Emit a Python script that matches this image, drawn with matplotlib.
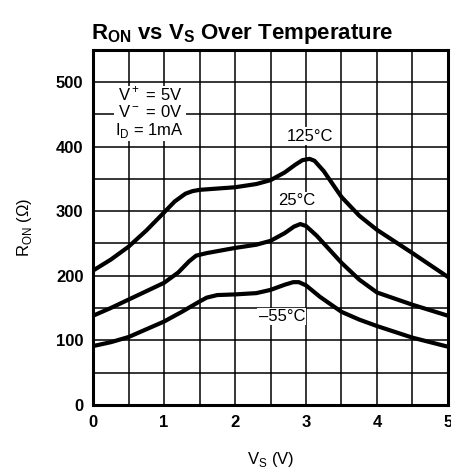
import matplotlib
matplotlib.use("Agg")
import matplotlib.pyplot as plt
import numpy as np

plt.rcParams['font.family'] = ['Liberation Sans', 'DejaVu Sans']
plt.rcParams['mathtext.fontset'] = 'custom'
plt.rcParams['mathtext.rm'] = 'Liberation Sans'
plt.rcParams['mathtext.bf'] = 'Liberation Sans:bold'

# Data
vs_125 = [0, 0.25, 0.5, 0.75, 1.0, 1.15, 1.3, 1.4, 1.5, 1.75, 2.0, 2.3, 2.5, 2.7, 2.85, 2.95, 3.05, 3.12, 3.25, 3.5, 3.75, 4.0, 4.5, 5.0]
ron_125 = [208, 225, 245, 270, 298, 315, 327, 331, 333, 335, 337, 342, 348, 360, 372, 379, 381, 378, 362, 322, 293, 271, 235, 198]

vs_25 = [0, 0.25, 0.5, 0.75, 1.0, 1.2, 1.35, 1.45, 1.6, 2.0, 2.3, 2.5, 2.7, 2.83, 2.92, 3.0, 3.15, 3.5, 3.75, 4.0, 4.5, 5.0]
ron_25 = [138, 150, 163, 176, 189, 205, 222, 231, 235, 243, 248, 254, 266, 276, 280, 277, 262, 220, 194, 174, 155, 138]

vs_m55 = [0, 0.25, 0.5, 0.75, 1.0, 1.25, 1.5, 1.6, 1.75, 2.0, 2.3, 2.5, 2.7, 2.82, 2.9, 3.0, 3.2, 3.5, 3.75, 4.0, 4.5, 5.0]
ron_m55 = [91, 97, 105, 117, 129, 144, 160, 166, 170, 171, 173, 178, 186, 190, 190, 185, 167, 144, 132, 122, 104, 90]

x_ticks = [0, 1, 2, 3, 4, 5]
y_ticks = [0, 100, 200, 300, 400, 500]

fig = plt.figure(figsize=(4.52, 4.74), dpi=100)
ax = fig.add_axes([0.206, 0.146, 0.785, 0.749])

for xs, ys in [(vs_125, ron_125), (vs_25, ron_25), (vs_m55, ron_m55)]:
    ax.plot(xs, ys, color='black', lw=3, solid_capstyle='round', solid_joinstyle='round', zorder=3)

ax.set_xlim(0, 5)
ax.set_ylim(0, 550)
ax.set_xticks(np.arange(0, 5.01, 0.5), minor=True)
ax.set_yticks(np.arange(0, 551, 50), minor=True)
ax.set_xticks(x_ticks)
ax.set_yticks(y_ticks)
ax.grid(True, which='both', color='black', lw=1.1)
ax.tick_params(which='both', length=0, labelsize=12, pad=7)
for lab in ax.get_xticklabels() + ax.get_yticklabels():
    lab.set_fontweight('bold')
for s in ax.spines.values():
    s.set_linewidth(2.2)

box = dict(facecolor='white', edgecolor='none', pad=1)
ax.text(0.8, 453, "V$^+$ = 5V\nV$^-$ = 0V\nI$_\\mathrm{D}$ = 1mA", ha='center', va='center',
        fontsize=12, linespacing=1.05, bbox=box, zorder=4)
ax.text(3.05, 416, "125°C", ha='center', va='center', fontsize=12, bbox=box, zorder=4)
ax.text(2.87, 316, "25°C", ha='center', va='center', fontsize=12, bbox=box, zorder=4)
ax.text(2.66, 137, "–55°C", ha='center', va='center', fontsize=12, bbox=box, zorder=4)

ax.set_xlabel("V$_\\mathrm{S}$ (V)", fontsize=12, labelpad=15)
ax.set_ylabel("R$_\\mathrm{ON}$ (Ω)", fontsize=12, labelpad=16)

fig.text(0.535, 0.928, "R$_\\mathbf{ON}$ vs V$_\\mathbf{S}$ Over Temperature", ha='center', va='center',
         fontsize=16, fontweight='bold')

fig.savefig("out.png", dpi=100)
